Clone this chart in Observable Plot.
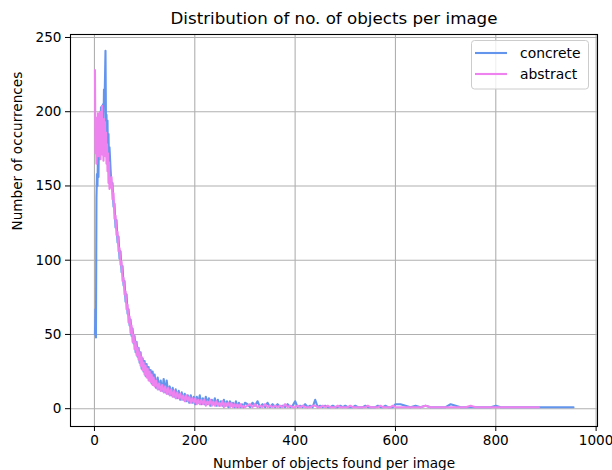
<!DOCTYPE html>
<html>
<head>
<meta charset="utf-8">
<script src="https://cdn.jsdelivr.net/npm/d3@7"></script>
<script src="https://cdn.jsdelivr.net/npm/@observablehq/plot@0.6"></script>
<style>
  body { margin: 0; background: #fff; }
  #wrap { position: relative; width: 612px; height: 470px; font-family: "DejaVu Sans", sans-serif; }
  #wrap > svg { position: absolute; left: 0; top: 0; }
</style>
</head>
<body>
<div id="wrap"></div>
<script>
// ---- chart text ----
const titleText = "Distribution of no. of objects per image";
const xLabel = "Number of objects found per image";
const yLabel = "Number of occurrences";
const seriesNames = ["concrete", "abstract"];
const seriesColors = ["#6495ED", "#EE82EE"];
const xTicks = [0, 200, 400, 600, 800, 1000];
const yTicks = [0, 50, 100, 150, 200, 250];

// ---- data, split into segments of the x range ----
const xA = [1,2,3,4,5,6,7,8,9,10,11,12,13,14,15,16,17,18,19,20,21,22,23,24,25,26,27,28,29,30];
const concreteA = [50,67,48,142,158,150,172,156,185,168,198,176,203,186,195,182,205,190,215,205,222,241,190,198,178,194,168,185,165,176];
const abstractA = [228,172,196,165,188,176,199,170,192,181,200,168,190,178,204,171,186,167,195,180,193,170,186,165,178,160,172,152,166,148];

const xB = [32,34,36,38,40,42,44,46,48,50,52,54,56,58,60,62,64,66,68,70,72,74,76,78,80,82,84,86,88,90,92,94,96,98,100,102,104,106,108,110,112,114,116,118,120];
const concreteB = [162,150,152,136,138,122,127,112,116,101,106,92,96,83,86,72,77,64,67,56,60,49,54,44,49,38,45,35,41,31,38,27,34,25,32,22,30,21,28,19,26,17,25,16,23];
const abstractB = [150,156,141,145,128,130,117,119,106,108,97,99,86,88,77,79,67,70,58,62,51,56,45,50,40,45,36,41,33,38,29,35,26,31,23,29,21,27,19,25,18,23,16,21,15];

const xC = [123,126,129,132,135,138,141,144,147,150,153,156,159,162,165,168,171,174,177,180,183,186,189,192,195,198,201,204,207,210,213,216,219,222,225,228,231,234,237,240,243,246,249,252,255,258,261,264,267,270,273,276,279,282,285,288,291,294,297,300];
const concreteC = [14,21,13,19,12,20,11,19,10,15,9,14,8,13,7,12,6,11,6,10,5,9,4,9,4,8,3,8,4,9,3,7,3,8,3,7,2,6,3,7,2,6,2,5,2,6,2,5,1,5,2,4,1,5,1,4,1,3,1,4];
const abstractC = [19,13,17,12,16,11,15,10,14,9,13,8,12,7,11,7,10,6,9,5,9,5,8,4,7,4,7,3,6,3,6,3,6,2,5,3,6,2,5,2,5,2,4,2,5,1,4,2,4,1,4,1,3,1,3,1,3,1,2,1];

const xD = [305,310,315,320,325,330,335,340,345,350,355,360,365,370,375,380,385,390,395,400,405,410,415,420,425,430,435,440,445,450,455,460,465,470,475,480,485,490,495,500,505,510,515,520,525,530,535,540,545,550,555,560,565,570,575,580,585,590,595,600];
const concreteD = [3,1,4,2,5,1,3,1,4,1,3,1,3,1,2,1,3,1,2,5,1,2,1,3,1,2,1,6,1,2,1,2,1,1,2,1,1,2,1,2,1,1,1,2,1,1,1,2,1,1,1,1,2,1,1,2,1,1,1,3];
const abstractD = [2,3,1,3,1,2,1,3,1,2,1,2,1,2,1,3,1,2,1,1,2,1,2,1,1,1,2,2,1,1,2,1,2,1,1,1,2,1,1,1,1,2,1,1,1,1,1,1,2,1,1,1,1,2,1,1,1,1,2,1];

const xE = [610,620,630,640,650,660,670,680,690,700,710,720,730,740,750,760,770,780,790,800,810,820,830,840,850,860,870,880,886,955];
const concreteE = [3,2,1,2,1,2,1,1,1,1,3,2,1,1,1,1,1,1,1,2,1,1,1,1,1,1,1,1,1,1];
const abstractE = [1,1,1,1,1,2,1,1,1,1,1,1,1,1,2,1,1,1,1,1,1,1,1,1,1,1,1,1,1,null];

// ---- table built from the arrays ----
const xs = [...xA, ...xB, ...xC, ...xD, ...xE];
const concrete = [...concreteA, ...concreteB, ...concreteC, ...concreteD, ...concreteE];
const abstract = [...abstractA, ...abstractB, ...abstractC, ...abstractD, ...abstractE];
const rows = xs.map((x, i) => ({x, concrete: concrete[i], abstract: abstract[i]}));

const gridStyle = {stroke: "#b0b0b0", strokeOpacity: 1, strokeWidth: 1.1};
const lineWidth = 2.1;

const chart = Plot.plot({
  width: 612,
  height: 470,
  marginLeft: 70,
  marginRight: 15,
  marginTop: 34,
  marginBottom: 44,
  style: {fontFamily: "'DejaVu Sans', sans-serif", fontSize: "13.6px", background: "white", color: "black"},
  x: {domain: [-47.75, 1002.75]},
  y: {domain: [-12, 252]},
  marks: [
    Plot.gridX({ticks: xTicks, ...gridStyle}),
    Plot.gridY({ticks: yTicks, ...gridStyle}),
    Plot.line(rows, {x: "x", y: "concrete", stroke: seriesColors[0], strokeWidth: lineWidth, strokeLinejoin: "round"}),
    Plot.line(rows, {x: "x", y: "abstract", stroke: seriesColors[1], strokeWidth: lineWidth, strokeLinejoin: "round"}),
    Plot.frame({stroke: "black", strokeWidth: 1.1}),
    Plot.axisX({ticks: xTicks, tickSize: 5, tickPadding: 4, label: null, tickFormat: d => String(d)}),
    Plot.axisY({ticks: yTicks, tickSize: 5, tickPadding: 4, label: null, tickFormat: d => String(d)}),
    Plot.text([titleText], {frameAnchor: "top", dy: -16, fontSize: 16.7, lineAnchor: "middle", text: d => d}),
    Plot.text([xLabel], {frameAnchor: "bottom", dy: 37, lineAnchor: "middle", text: d => d}),
    Plot.text([yLabel], {frameAnchor: "left", dx: -53, rotate: -90, lineAnchor: "middle", text: d => d})
  ]
});

const wrap = document.getElementById("wrap");
wrap.appendChild(chart);

// ---- legend overlay ----
const leg = d3.select(wrap).append("svg")
  .attr("width", 612).attr("height", 470)
  .style("font-family", "'DejaVu Sans', sans-serif");
leg.append("rect")
  .attr("x", 471.5).attr("y", 40.5).attr("width", 117).attr("height", 48.5)
  .attr("rx", 3).attr("fill", "white").attr("fill-opacity", 0.8)
  .attr("stroke", "#cccccc").attr("stroke-width", 1);
seriesNames.forEach((name, i) => {
  const y = 53 + i * 21;
  leg.append("line").attr("x1", 475).attr("x2", 507).attr("y1", y).attr("y2", y)
    .attr("stroke", seriesColors[i]).attr("stroke-width", lineWidth);
  leg.append("text").attr("x", 520).attr("y", y).attr("dy", "0.35em")
    .attr("font-size", "13.9px").attr("fill", "black").text(name);
});
</script>
</body>
</html>
